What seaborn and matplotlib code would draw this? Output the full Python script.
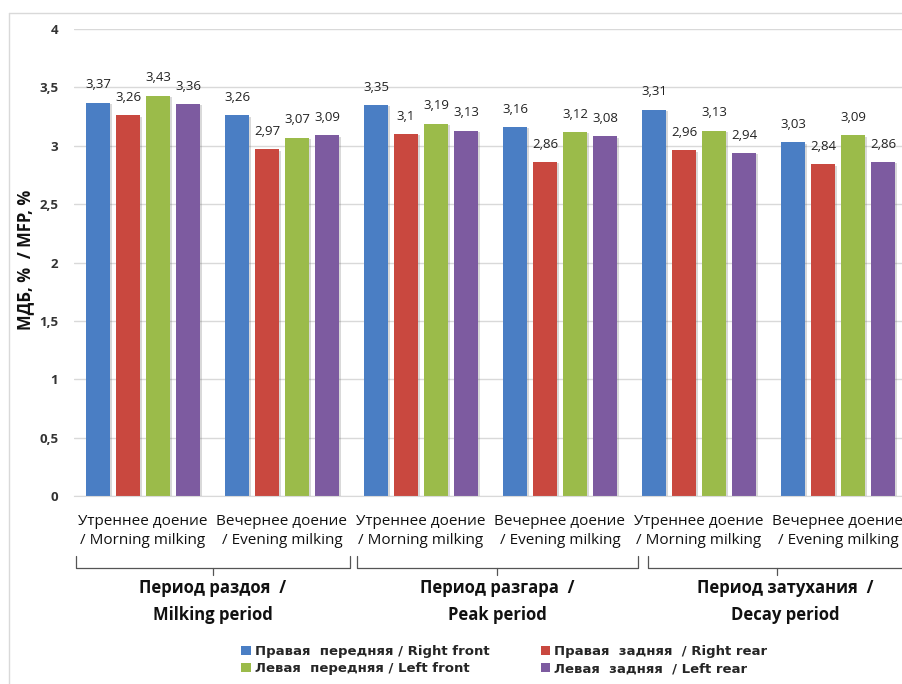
import matplotlib
matplotlib.use("Agg")
import matplotlib.pyplot as plt
import matplotlib.patheffects as pe
from matplotlib.lines import Line2D
from matplotlib.patches import Patch
import seaborn as sns
import pandas as pd

# Milking sessions grouped by lactation period
categories = [
    "Утреннее доение\n/ Morning milking",
    "Вечернее доение\n/ Evening milking",
    "Утреннее доение\n/ Morning milking",
    "Вечернее доение\n/ Evening milking",
    "Утреннее доение\n/ Morning milking",
    "Вечернее доение\n/ Evening milking",
]
periods_ru = ["Период раздоя  /", "Период разгара  /", "Период затухания  /"]
periods_en = ["Milking period", "Peak period", "Decay period"]

series = [
    "Правая  передняя / Right front",
    "Правая  задняя  / Right rear",
    "Левая  передняя / Left front",
    "Левая  задняя  / Left rear",
]
right_front = [3.37, 3.26, 3.35, 3.16, 3.31, 3.03]
right_rear = [3.26, 2.97, 3.10, 2.86, 2.96, 2.84]
left_front = [3.43, 3.07, 3.19, 3.12, 3.13, 3.09]
left_rear = [3.36, 3.09, 3.13, 3.08, 2.94, 2.86]

yticks = [0, 0.5, 1, 1.5, 2, 2.5, 3, 3.5, 4]
ytick_labels = ["0", "0,5", "1", "1,5", "2", "2,5", "3", "3,5", "4"]

colors = ["#4a7ec4", "#c9483f", "#9bbb4a", "#7d5ba0"]

sns.set_style("white")
plt.rcParams["font.family"] = ["Open Sans", "DejaVu Sans"]

values = [right_front, right_rear, left_front, left_rear]
slots = [f"c{i}" for i in range(len(categories))]
rows = []
for name, vals in zip(series, values):
    for slot, v in zip(slots, vals):
        rows.append({"slot": slot, "series": name, "value": v})
df = pd.DataFrame(rows)

fig = plt.figure(figsize=(9.02, 6.84), dpi=100)
ax = fig.add_axes([73.5 / 902, 188 / 684, 834 / 902, 467 / 684])

sns.barplot(data=df, x="slot", y="value", hue="series", order=slots,
            hue_order=series, palette=colors, width=0.863, gap=0.2,
            saturation=1, legend=False, ax=ax, errorbar=None)

shadow = [pe.SimplePatchShadow(offset=(1.5, -1), alpha=0.22, shadow_rgbFace="#555555"),
          pe.Normal()]
for cont, vals in zip(ax.containers, values):
    for bar in cont:
        bar.set_edgecolor("none")
        bar.set_path_effects(shadow)
    labels = [f"{v:g}".replace(".", ",") for v in vals]
    ax.bar_label(cont, labels=labels, padding=8, fontsize=9.5, color="#222222")

ax.set_xlim(-0.5, 5.5)
ax.set_ylim(0, 4)
ax.set_yticks(yticks)
ax.set_yticklabels(ytick_labels, fontsize=9.5, fontweight="bold", color="#333333")
ax.yaxis.grid(True, color="#d9d9d9", linewidth=1)
ax.set_axisbelow(True)
ax.tick_params(axis="y", length=0, pad=11)
ax.tick_params(axis="x", length=0, pad=13)
ax.set_xticks(range(len(categories)))
ax.set_xticklabels(categories, fontsize=11, color="#111111", linespacing=1.35)
for side in ["top", "right", "left"]:
    ax.spines[side].set_visible(False)
ax.spines["bottom"].set_color("#d9d9d9")
ax.set_xlabel("")
ax.set_ylabel("МДБ, %  / MFP, %", fontsize=12, fontweight="bold", color="#111111")
ax.yaxis.set_label_coords(-0.047, 0.505)

# Braces grouping the sessions by period
tr = ax.get_xaxis_transform()
y_top, y_mid, y_tip = -0.128, -0.154, -0.169
brackets = [(-0.48, 1.49, 0.5), (1.54, 3.56, 2.55), (3.63, 5.6, 4.56)]
for x0, x1, xc in brackets:
    ax.plot([x0, x0, x1, x1], [y_top, y_mid, y_mid, y_top], transform=tr,
            color="#555555", lw=0.9, clip_on=False)
    ax.plot([xc, xc], [y_mid, y_tip], transform=tr, color="#555555",
            lw=0.9, clip_on=False)

for xc, ru, en in zip([0.5, 2.55, 4.62], periods_ru, periods_en):
    ax.text(xc, -0.197, ru, transform=tr, ha="center", va="center",
            fontsize=12, fontweight="bold", color="#111111")
    ax.text(xc, -0.255, en, transform=tr, ha="center", va="center",
            fontsize=12, fontweight="bold", color="#111111")

# Legend: two columns, front teats on the left
order = [0, 2, 1, 3]
handles = [Patch(facecolor=colors[i], edgecolor="none") for i in order]
labels = [series[i] for i in order]
fig.legend(handles, labels, ncol=2, loc="center", bbox_to_anchor=(0.559, 0.035),
           frameon=False, handlelength=0.7, handleheight=0.7, handletextpad=0.3,
           columnspacing=3.9, labelspacing=0.3,
           prop={"size": 9.5, "weight": "bold", "family": ["DejaVu Sans"]})

# Light chart-area frame
fig.add_artist(Line2D([9 / 902, 9 / 902], [0, 1 - 13 / 684], color="#d9d9d9", lw=1))
fig.add_artist(Line2D([9 / 902, 1], [1 - 13 / 684, 1 - 13 / 684], color="#d9d9d9", lw=1))

fig.savefig("out.png", dpi=100)
